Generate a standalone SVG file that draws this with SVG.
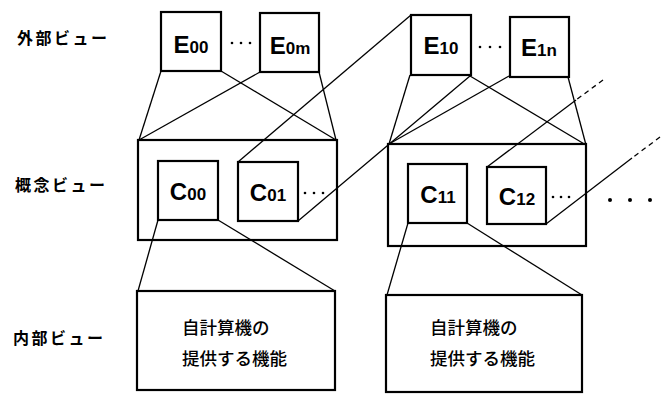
<svg xmlns="http://www.w3.org/2000/svg" width="664" height="394" viewBox="0 0 664 394">
<style>
.box{fill:none;stroke:#000;stroke-width:2.2}
.ln{fill:none;stroke:#000;stroke-width:1.3}
.dash{fill:none;stroke:#000;stroke-width:1.3;stroke-dasharray:5 4}
.lbl{font-family:"Noto Sans CJK JP",sans-serif;font-size:16px;font-weight:bold;fill:#000;letter-spacing:2.5px}
.in{font-family:"Noto Sans CJK JP",sans-serif;font-size:17.5px;font-weight:500;fill:#000}
.nm{font-family:"Liberation Sans",Arial,sans-serif;font-weight:bold;fill:#000}
.big{font-size:24px}
.sm{font-size:17px}
.dot{fill:#000}
</style>
<rect width="664" height="394" fill="#fff"/>
<g id="labels">
<text class="lbl" x="17" y="44">外部ビュー</text>
<text class="lbl" x="15" y="191">概念ビュー</text>
<text class="lbl" x="13" y="344">内部ビュー</text>
</g>
<g id="connectors">
<line class="ln" x1="161" y1="71" x2="139" y2="140"/>
<line class="ln" x1="221" y1="71" x2="336" y2="140"/>
<line class="ln" x1="260" y1="72" x2="139" y2="140"/>
<line class="ln" x1="319" y1="72" x2="336" y2="140"/>
<line class="ln" x1="411" y1="15" x2="238" y2="162"/>
<line class="ln" x1="470" y1="76" x2="298" y2="221"/>
<line class="ln" x1="410" y1="75" x2="389" y2="144"/>
<line class="ln" x1="509" y1="76" x2="389" y2="144"/>
<line class="ln" x1="470" y1="76" x2="586" y2="145"/>
<line class="ln" x1="568" y1="77" x2="586" y2="145"/>
<line class="dash" x1="603" y1="80" x2="576" y2="100"/>
<line class="ln" x1="576" y1="100" x2="487" y2="167"/>
<line class="dash" x1="660" y1="137" x2="632" y2="158"/>
<line class="ln" x1="632" y1="158" x2="546" y2="224"/>
<line class="ln" x1="158" y1="220" x2="138" y2="291"/>
<line class="ln" x1="218" y1="220" x2="335" y2="291"/>
<line class="ln" x1="408" y1="223" x2="387" y2="295"/>
<line class="ln" x1="467" y1="223" x2="582" y2="295"/>
</g>
<g id="E00"><rect class="box" x="161" y="12" width="60" height="59"/><text class="nm" x="191" y="53" text-anchor="middle"><tspan class="big">E</tspan><tspan class="sm">00</tspan></text></g>
<g id="E0m"><rect class="box" x="260" y="13" width="59" height="59"/><text class="nm" x="290" y="54" text-anchor="middle"><tspan class="big">E</tspan><tspan class="sm">0m</tspan></text></g>
<g id="E10"><rect class="box" x="411" y="15" width="60" height="60"/><text class="nm" x="441" y="54" text-anchor="middle"><tspan class="big">E</tspan><tspan class="sm">10</tspan></text></g>
<g id="E1n"><rect class="box" x="510" y="17" width="59" height="60"/><text class="nm" x="539" y="56" text-anchor="middle"><tspan class="big">E</tspan><tspan class="sm">1n</tspan></text></g>
<g id="dotsE">
<circle class="dot" cx="232" cy="43" r="1.3"/><circle class="dot" cx="241" cy="43" r="1.3"/><circle class="dot" cx="250" cy="43" r="1.3"/>
<circle class="dot" cx="480" cy="47" r="1.3"/><circle class="dot" cx="490" cy="47" r="1.3"/><circle class="dot" cx="500" cy="47" r="1.3"/>
</g>
<g id="concept0"><rect class="box" x="138" y="140" width="199" height="100"/></g>
<g id="concept1"><rect class="box" x="388" y="144" width="198" height="102"/></g>
<g id="C00"><rect class="box" x="158" y="161" width="60" height="59"/><text class="nm" x="188" y="200" text-anchor="middle"><tspan class="big">C</tspan><tspan class="sm">00</tspan></text></g>
<g id="C01"><rect class="box" x="238" y="162" width="60" height="59"/><text class="nm" x="268" y="201" text-anchor="middle"><tspan class="big">C</tspan><tspan class="sm">01</tspan></text></g>
<g id="C11"><rect class="box" x="408" y="164" width="59" height="59"/><text class="nm" x="438" y="203" text-anchor="middle"><tspan class="big">C</tspan><tspan class="sm">11</tspan></text></g>
<g id="C12"><rect class="box" x="487" y="167" width="59" height="57"/><text class="nm" x="517" y="205" text-anchor="middle"><tspan class="big">C</tspan><tspan class="sm">12</tspan></text></g>
<g id="dotsC">
<circle class="dot" cx="305" cy="193" r="1.3"/><circle class="dot" cx="314" cy="193" r="1.3"/><circle class="dot" cx="323" cy="193" r="1.3"/>
<circle class="dot" cx="553" cy="197" r="1.3"/><circle class="dot" cx="561" cy="197" r="1.3"/><circle class="dot" cx="569" cy="197" r="1.3"/>
<circle class="dot" cx="610" cy="200" r="2"/><circle class="dot" cx="630" cy="200" r="2"/><circle class="dot" cx="650" cy="200" r="2"/>
</g>
<g id="internal0"><rect class="box" x="137" y="291" width="198" height="99"/><text class="in" x="182" y="334">自計算機の</text><text class="in" x="182" y="365">提供する機能</text></g>
<g id="internal1"><rect class="box" x="386" y="295" width="196" height="97"/><text class="in" x="430" y="334">自計算機の</text><text class="in" x="430" y="365">提供する機能</text></g>
</svg>
